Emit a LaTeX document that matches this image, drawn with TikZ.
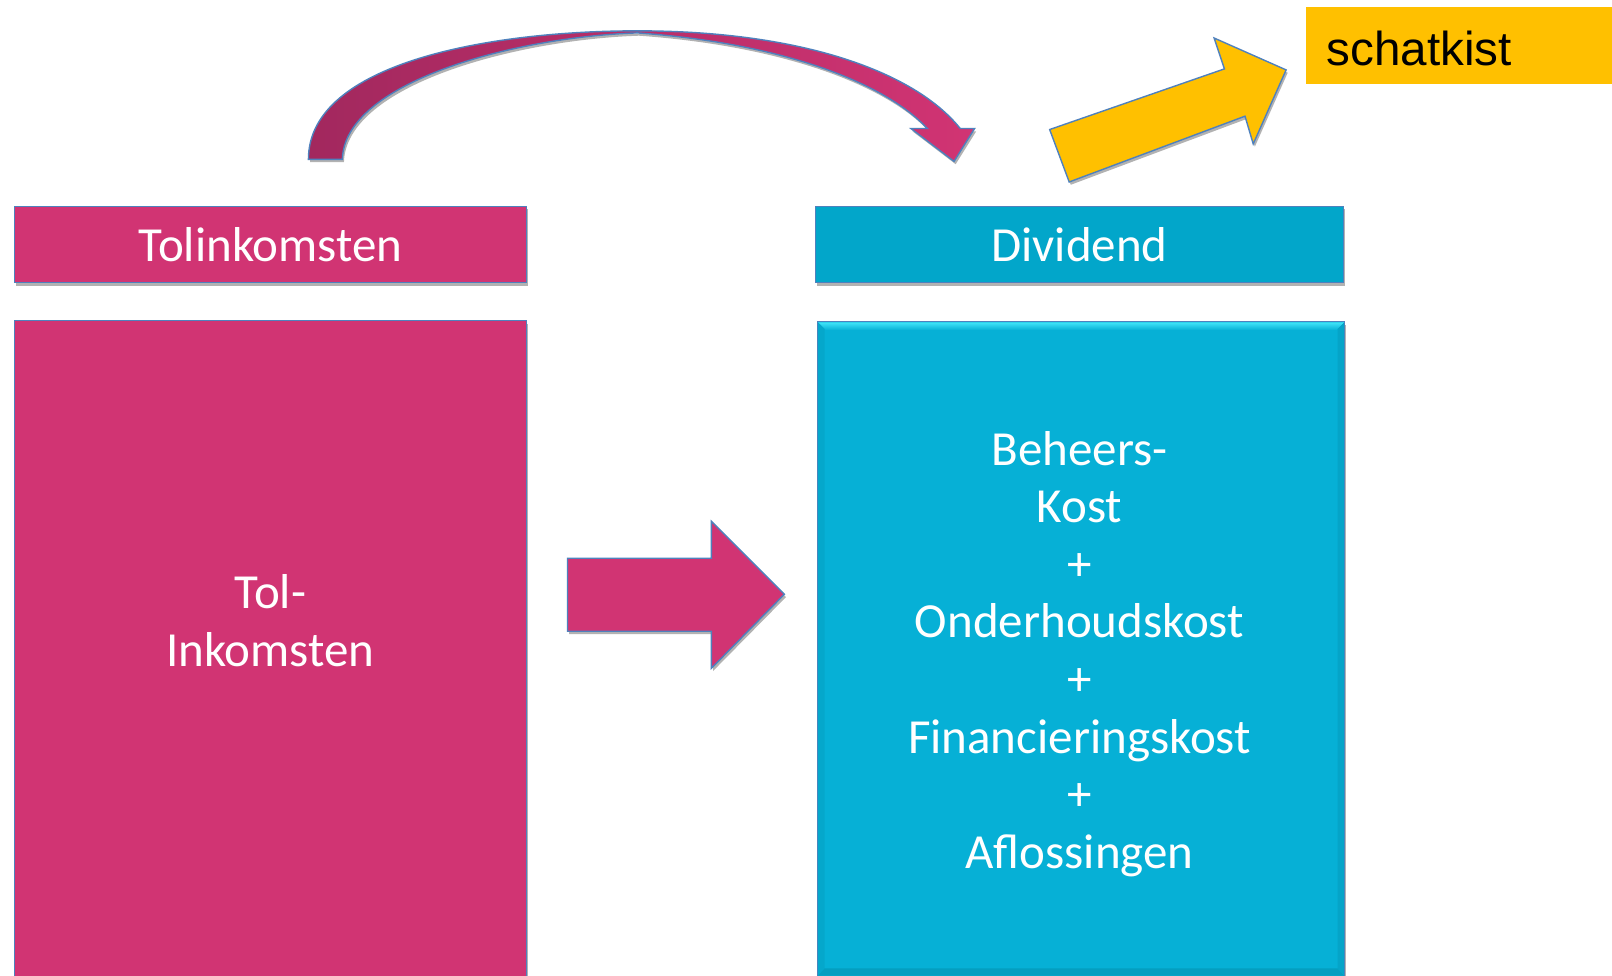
\documentclass[tikz,border=0pt]{standalone}
\usepackage{fontspec}
\setmainfont{Carlito}
\newfontfamily\arialfont{Liberation Sans}
\usetikzlibrary{shadows}
\definecolor{pinkc}{HTML}{D13473}
\definecolor{pinkdark}{HTML}{A2285E}
\definecolor{cyanhead}{HTML}{02A6CA}
\definecolor{cyanbox}{HTML}{06B0D6}
\definecolor{cyanlight}{HTML}{40E4F8}
\definecolor{cyandark}{HTML}{0396B6}
\definecolor{yellowc}{HTML}{FFC000}
\definecolor{edgec}{HTML}{4F81BD}
\begin{document}
\begin{tikzpicture}[x=0.514pt,y=-0.514pt,
  outl/.style={draw=edgec, line width=0.7pt},
  softshadow/.style={drop shadow={shadow xshift=0.8pt, shadow yshift=-1.4pt, opacity=0.3, fill=black}},
  boxtext/.style={text=white, font=\fontsize{24.5}{28.8}\selectfont, align=center, inner sep=0pt},
  headtext/.style={text=white, font=\fontsize{24.5}{28.8}\selectfont, inner sep=0pt, anchor=base}]
\useasboundingbox[fill=white] (0,0) rectangle (1568,949);
\clip (0,0) rectangle (1568,949);

% curved arrow
\shade[left color=pinkdark, right color=pinkc, outl, softshadow]
  (300,155) .. controls (300,60) and (480,30) .. (620,30)
  .. controls (780,30) and (890,70) .. (934,125)
  -- (948,125) -- (928,157) -- (886,125) -- (902,125)
  .. controls (860,80) and (760,42) .. (620,32)
  .. controls (500,36) and (335,80) .. (333,155) -- cycle;

% yellow arrow
\path[fill=yellowc, outl, softshadow]
  (1021,126) -- (1191,67) -- (1181,37) -- (1251,68) -- (1219,140) -- (1211,113) -- (1040,177) -- cycle;

% schatkist
\path[fill=yellowc] (1270,7) rectangle (1568,82);
\node[anchor=base west, inner sep=0pt, font=\arialfont\fontsize{23.8}{28}\selectfont] (schat) at (1290,64) {schatkist};

% headers
\path[fill=pinkc, outl, softshadow] (14,201) rectangle (512,275);
\node[headtext] (tolhead) at (263,254) {Tolinkomsten};
\path[fill=cyanhead, outl, softshadow] (793,201) rectangle (1307,275);
\node[headtext] (divhead) at (1050,254) {Dividend};

% big pink box
\path[fill=pinkc, outl, softshadow] (14,312) rectangle (512,975);
\node[boxtext] (tolbox) at (263,604) {Tol-\\Inkomsten};

% pink arrow
\path[fill=pinkc, outl, softshadow]
  (552,543) -- (692,543) -- (692,507) -- (763,578) -- (692,650) -- (692,614) -- (552,614) -- cycle;

% blue box with bevel
\path[fill=cyanbox, outl, softshadow] (795,313) rectangle (1308,975);
\shade[top color=cyanlight, bottom color=cyanbox] (795.5,313.5) -- (1307.5,313.5) -- (1300,321) -- (803,321) -- cycle;
\fill[cyandark!35!cyanbox] (795.5,313.5) -- (802,320) -- (802,942) -- (795.5,948.5) -- cycle;
\fill[cyandark!45!cyanbox] (1307.5,313.5) -- (1301,320) -- (1301,942) -- (1307.5,948.5) -- cycle;
\fill[cyandark!70!cyanbox] (802,942) -- (1301,942) -- (1307.5,949) -- (795.5,949) -- cycle;
\node[boxtext] (divbox) at (1050,636) {Beheers-\\Kost\\+\\Onderhoudskost\\+\\Financieringskost\\+\\Aflossingen};
\end{tikzpicture}
\end{document}
